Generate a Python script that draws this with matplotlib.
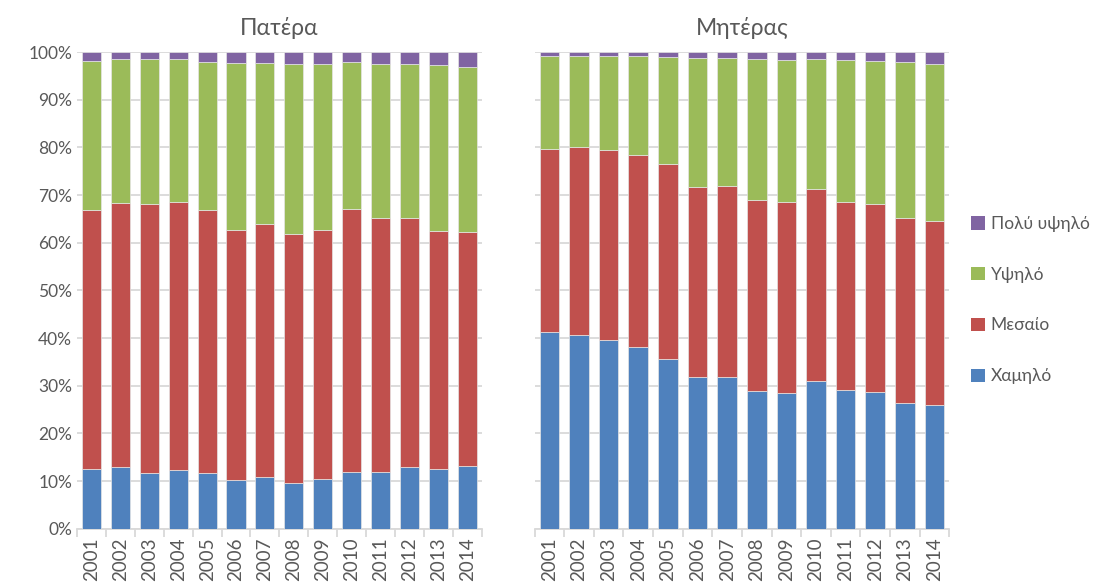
import numpy as np
import matplotlib
matplotlib.use("Agg")
import matplotlib.pyplot as plt
from matplotlib.patches import Patch

plt.rcParams['font.family'] = ['Lato', 'Noto Sans', 'DejaVu Sans']

# ------------------------- DATA (cumulative %) ------------ #
years = [str(y) for y in range(2001, 2015)]
series = ["Χαμηλό", "Μεσαίο", "Υψηλό", "Πολύ υψηλό"]
colors = ["#4F81BD", "#C0504D", "#9BBB59", "#8064A2"]

# Πατέρα
father_low  = [12.5, 12.9, 11.7, 12.4, 11.8, 10.3, 10.8, 9.7, 10.4, 12.0, 12.0, 13.0, 12.5, 13.1]
father_mid  = [66.9, 68.3, 68.1, 68.6, 66.8, 62.7, 63.9, 61.8, 62.7, 67.0, 65.2, 65.2, 62.5, 62.3]
father_high = [98.2, 98.5, 98.5, 98.5, 98.0, 97.8, 97.8, 97.4, 97.6, 98.0, 97.6, 97.5, 97.2, 96.8]

# Μητέρας
mother_low  = [41.2, 40.7, 39.6, 38.2, 35.7, 31.9, 31.9, 28.9, 28.5, 31.0, 29.1, 28.7, 26.4, 26.0]
mother_mid  = [79.7, 80.0, 79.5, 78.5, 76.5, 71.8, 72.0, 69.0, 68.6, 71.3, 68.6, 68.2, 65.3, 64.6]
mother_high = [99.2, 99.2, 99.2, 99.1, 99.0, 98.8, 98.8, 98.5, 98.4, 98.6, 98.3, 98.1, 97.9, 97.6]

TXT = "#595959"
GRID = "#D9D9D9"


def draw_panel(ax, low, mid, high, title):
    x = np.arange(len(years))
    cum = [np.array(low), np.array(mid), np.array(high), np.full(len(years), 100.0)]
    bottom = np.zeros(len(years))
    for top, col in zip(cum, colors):
        ax.bar(x, top - bottom, bottom=bottom, width=0.66, color=col,
               edgecolor="#E6E6E6", linewidth=0.5, zorder=3)
        bottom = top
    ax.set_xlim(-0.5, len(years) - 0.5)
    ax.set_ylim(0, 100)
    ax.set_yticks(np.arange(0, 101, 10))
    ax.yaxis.grid(True, color=GRID, lw=1.3, zorder=0)
    ax.set_xticks(x)
    ax.set_xticklabels(years, rotation=90, fontsize=13.5, color=TXT)
    ax.set_xticks(np.arange(-0.5, len(years), 1), minor=True)
    ax.tick_params(axis="x", which="major", length=0, pad=6)
    ax.tick_params(axis="x", which="minor", length=6, color=GRID, width=1.3)
    ax.tick_params(axis="y", length=0, labelsize=12.5, labelcolor=TXT)
    for s in ["top", "right", "left"]:
        ax.spines[s].set_visible(False)
    ax.spines["bottom"].set_color(GRID)
    ax.spines["bottom"].set_linewidth(1.3)
    ax.set_title(title, fontsize=16.5, color=TXT, pad=12)


fig = plt.figure(figsize=(11, 5.85), dpi=100)
axL = fig.add_axes([0.07, 0.096, 0.368, 0.815])
axR = fig.add_axes([0.486, 0.096, 0.377, 0.815])

draw_panel(axL, father_low, father_mid, father_high, "Πατέρα")
axL.set_yticklabels([f"{v}%" for v in range(0, 101, 10)])

draw_panel(axR, mother_low, mother_mid, mother_high, "Μητέρας")
axR.set_yticklabels([])

handles = [Patch(facecolor=c, edgecolor="none") for c in colors][::-1]
fig.legend(handles, series[::-1], loc="center left", bbox_to_anchor=(0.873, 0.487),
           frameon=False, fontsize=12.5, labelcolor=TXT, handlelength=0.8,
           handleheight=0.8, handletextpad=0.35, labelspacing=2.0,
           borderaxespad=0.2)

fig.savefig("out.png", dpi=100)
